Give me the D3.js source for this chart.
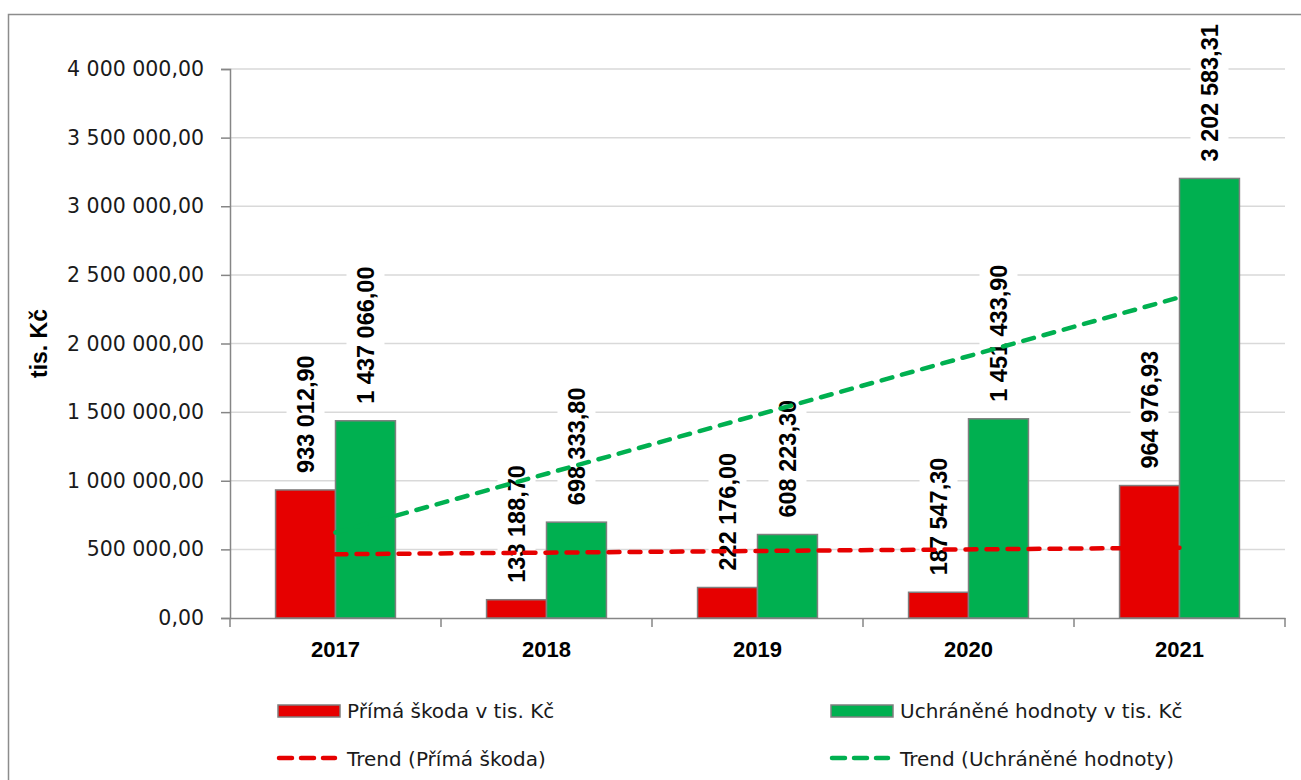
<!DOCTYPE html>
<html>
<head>
<meta charset="utf-8">
<script src="https://cdn.jsdelivr.net/npm/d3@7"></script>
<style>
  body { margin: 0; background: #fff; }
  svg { display: block; }
</style>
</head>
<body>
<svg id="chart" width="1301" height="780"></svg>
<script>
// Chart data
const years = ["2017", "2018", "2019", "2020", "2021"];
const primaSkoda = [933012.90, 133188.70, 222176.00, 187547.30, 964976.93];
const uchraneneHodnoty = [1437066.00, 698333.80, 608223.30, 1451433.90, 3202583.31];
const yTicks = [0, 500000, 1000000, 1500000, 2000000, 2500000, 3000000, 3500000, 4000000];

const series = [
  { key: "prima", name: "Přímá škoda v tis. Kč", trendName: "Trend (Přímá škoda)", values: primaSkoda, color: "#e60000" },
  { key: "uchr", name: "Uchráněné hodnoty v tis. Kč", trendName: "Trend (Uchráněné hodnoty)", values: uchraneneHodnoty, color: "#00b050" }
];

const czech = d3.formatLocale({ decimal: ",", thousands: " ", grouping: [3], currency: ["", ""] });
const fmt = czech.format(",.2f");

const svg = d3.select("#chart");
const plot = { left: 230, right: 1285, top: 69, bottom: 618 };

// outer frame
svg.append("rect")
  .attr("x", 8.5).attr("y", 14.5)
  .attr("width", 1300).attr("height", 800)
  .attr("fill", "none").attr("stroke", "#8c8c8c").attr("stroke-width", 1.5);

const x = d3.scaleBand().domain(years).range([plot.left, plot.right]).padding(0);
const y = d3.scaleLinear().domain([0, 4000000]).range([plot.bottom, plot.top]);
const barW = x.bandwidth() / (2 + 1.52);
const xs = d3.scaleBand().domain(series.map(s => s.key)).range([-barW, barW]).padding(0);

// gridlines
svg.append("g")
  .selectAll("line")
  .data(yTicks.filter(d => d > 0))
  .enter().append("line")
  .attr("x1", plot.left).attr("x2", plot.right)
  .attr("y1", d => y(d)).attr("y2", d => y(d))
  .attr("stroke", "#d9d9d9").attr("stroke-width", 1.5);

// y axis
const yAxis = svg.append("g")
  .attr("transform", `translate(${plot.left},0)`)
  .call(d3.axisLeft(y).tickValues(yTicks).tickSize(9).tickPadding(17).tickFormat(fmt));
yAxis.select(".domain").attr("stroke", "#868686").attr("stroke-width", 1.5);
yAxis.selectAll(".tick line").attr("stroke", "#868686").attr("stroke-width", 1.5);
yAxis.selectAll(".tick text")
  .attr("fill", "#1a1a1a")
  .style("font-family", "'DejaVu Sans', sans-serif")
  .style("font-size", "20.5px");

// x axis
const xAxis = svg.append("g")
  .attr("transform", `translate(0,${plot.bottom})`)
  .call(d3.axisBottom(x).tickSize(0).tickPadding(0));
xAxis.select(".domain").attr("stroke", "#868686").attr("stroke-width", 1.5);
xAxis.selectAll(".tick text")
  .attr("y", 39)
  .attr("dy", 0)
  .attr("fill", "#000")
  .style("font-family", "'Liberation Sans', Arial, sans-serif")
  .style("font-size", "22px")
  .style("font-weight", "bold");
// category boundary ticks
xAxis.append("g")
  .selectAll("line")
  .data(years.concat(["end"]))
  .enter().append("line")
  .attr("x1", d => d === "end" ? plot.right : x(d))
  .attr("x2", d => d === "end" ? plot.right : x(d))
  .attr("y1", 0).attr("y2", 9)
  .attr("stroke", "#868686").attr("stroke-width", 1.5);

// y axis title
svg.append("text")
  .attr("transform", `translate(39,${(plot.top + plot.bottom) / 2}) rotate(-90)`)
  .attr("text-anchor", "middle")
  .attr("dy", "0.35em")
  .style("font-family", "'Liberation Sans', Arial, sans-serif")
  .style("font-size", "23px")
  .style("font-weight", "bold")
  .text("tis. Kč");

// bars
series.forEach(s => {
  svg.append("g")
    .selectAll("rect")
    .data(s.values)
    .enter().append("rect")
    .attr("x", (d, i) => x(years[i]) + x.bandwidth() / 2 + xs(s.key))
    .attr("y", d => y(d))
    .attr("width", xs.bandwidth())
    .attr("height", d => y(0) - y(d))
    .attr("fill", s.color)
    .attr("stroke", "#7f7f7f")
    .attr("stroke-width", 1.5);
});

// data labels (rotated, white box behind)
const labelLayer = svg.append("g");
series.forEach(s => {
  s.values.forEach((v, i) => {
    const cx = x(years[i]) + x.bandwidth() / 2 + xs(s.key) + xs.bandwidth() / 2;
    const y0 = y(v) - 17;
    const g = labelLayer.append("g");
    const box = g.append("rect").attr("fill", "#fff");
    const t = g.append("text")
      .attr("transform", `translate(${cx},${y0}) rotate(-90)`)
      .attr("dy", "0.35em")
      .attr("text-anchor", "start")
      .style("font-family", "'Liberation Sans', Arial, sans-serif")
      .style("font-size", "23.5px")
      .style("font-weight", "bold")
      .text(fmt(v));
    const len = t.node().getComputedTextLength();
    box.attr("x", cx - 19).attr("width", 38)
      .attr("y", y0 - len - 5).attr("height", len + 10);
  });
});

// linear trend lines
series.forEach(s => {
  const n = s.values.length;
  const mx = d3.mean(s.values, (d, i) => i);
  const my = d3.mean(s.values);
  const slope = d3.sum(s.values, (d, i) => (i - mx) * (d - my)) / d3.sum(s.values, (d, i) => (i - mx) * (i - mx));
  const b = my - slope * mx;
  svg.append("line")
    .attr("x1", x(years[0]) + x.bandwidth() / 2)
    .attr("x2", x(years[n - 1]) + x.bandwidth() / 2)
    .attr("y1", y(b))
    .attr("y2", y(b + slope * (n - 1)))
    .attr("stroke", s.color)
    .attr("stroke-width", 4.5)
    .attr("stroke-linecap", "round")
    .attr("stroke-dasharray", "11,10");
});

// legend
const legendCols = [278, 831];
const legend = svg.append("g")
  .style("font-family", "'DejaVu Sans', sans-serif")
  .style("font-size", "20px")
  .attr("fill", "#1a1a1a");
series.forEach((s, i) => {
  const lx = legendCols[i];
  legend.append("rect")
    .attr("x", lx).attr("y", 705)
    .attr("width", 62).attr("height", 12)
    .attr("fill", s.color).attr("stroke", "#7f7f7f").attr("stroke-width", 1.5);
  legend.append("text")
    .attr("x", lx + 69).attr("y", 711).attr("dy", "0.35em")
    .text(s.name);
  legend.append("line")
    .attr("x1", lx + 1).attr("x2", lx + 57)
    .attr("y1", 758).attr("y2", 758)
    .attr("stroke", s.color).attr("stroke-width", 4.5)
    .attr("stroke-linecap", "round")
    .attr("stroke-dasharray", "13,9");
  legend.append("text")
    .attr("x", lx + 69).attr("y", 759).attr("dy", "0.35em")
    .text(s.trendName);
});
</script>
</body>
</html>
